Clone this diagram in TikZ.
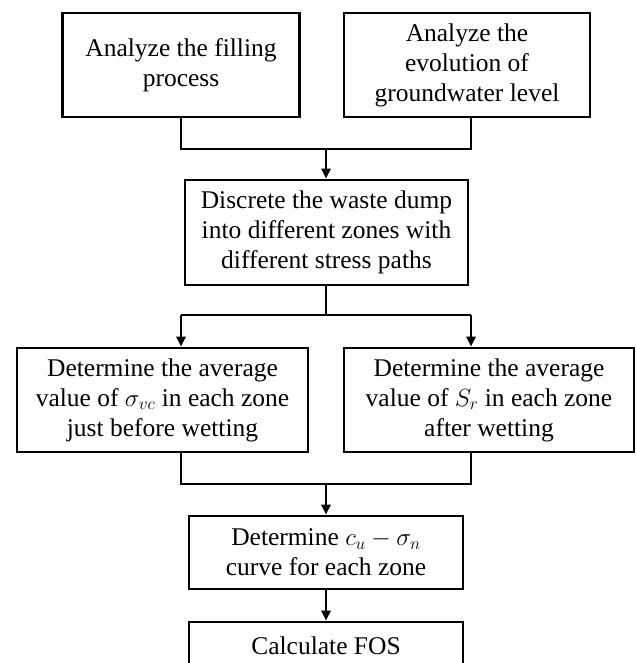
\documentclass[tikz,border=0pt]{standalone}
\usepackage{fontspec}
\setmainfont{Liberation Serif}
\usetikzlibrary{arrows.meta,calc}
\begin{document}
\begin{tikzpicture}[x=1pt,y=-1pt,
  box/.style={draw,line width=2.6pt,align=center,inner sep=0pt,
    font=\fontsize{25.5}{30}\selectfont},
  link/.style={line width=2.6pt},
  arr/.style={line width=2.6pt,-{Triangle[length=10pt,width=9pt]}}]
\useasboundingbox (0,0) rectangle (635,663);
\clip (0,0) rectangle (635,663);
\node[box,minimum width=237pt,minimum height=104pt] (b1) at (181,65) {Analyze the filling\\process};
\node[box,minimum width=246pt,minimum height=104pt] (b2) at (467,65) {Analyze the\\evolution of\\groundwater level};
\node[box,minimum width=283pt,minimum height=105pt] (b3) at (326.5,232.5) {Discrete the waste dump\\into different zones with\\different stress paths};
\node[box,minimum width=291pt,minimum height=104pt] (b4) at (162.5,400) {Determine the average\\value of $\sigma_{vc}$ in each zone\\just before wetting};
\node[box,minimum width=290pt,minimum height=104pt] (b5) at (489,400) {Determine the average\\value of $S_r$ in each zone\\after wetting};
\node[box,minimum width=274pt,minimum height=73pt] (b6) at (326,552.5) {Determine $c_u-\sigma_n$\\curve for each zone};
\node[box,minimum width=274pt,minimum height=48pt] (b7) at (326,646) {Calculate FOS};
\coordinate (colL) at (181,0);
\coordinate (colR) at (471,0);
\coordinate (colM) at (326,0);
\coordinate (j1) at (326,149);
\coordinate (j2) at (326,315);
\coordinate (j3) at (326,484);
% top merge
\draw[link] (b1.south -| colL) |- (j1 -| colL) -- (j1 -| colR) -- (b2.south -| colR);
\draw[arr] (j1) -- (b3.north -| colM);
% split
\draw[link] (b3.south -| colM) -- (j2);
\draw[link] (j2 -| colL) -- (j2 -| colR);
\draw[arr] (j2 -| colL) -- (b4.north -| colL);
\draw[arr] (j2 -| colR) -- (b5.north -| colR);
% merge
\draw[link] (b4.south -| colL) -- (j3 -| colL) -- (j3 -| colR) -- (b5.south -| colR);
\draw[arr] (j3) -- (b6.north -| colM);
\draw[arr] (b6.south -| colM) -- (b7.north -| colM);
\end{tikzpicture}
\end{document}
